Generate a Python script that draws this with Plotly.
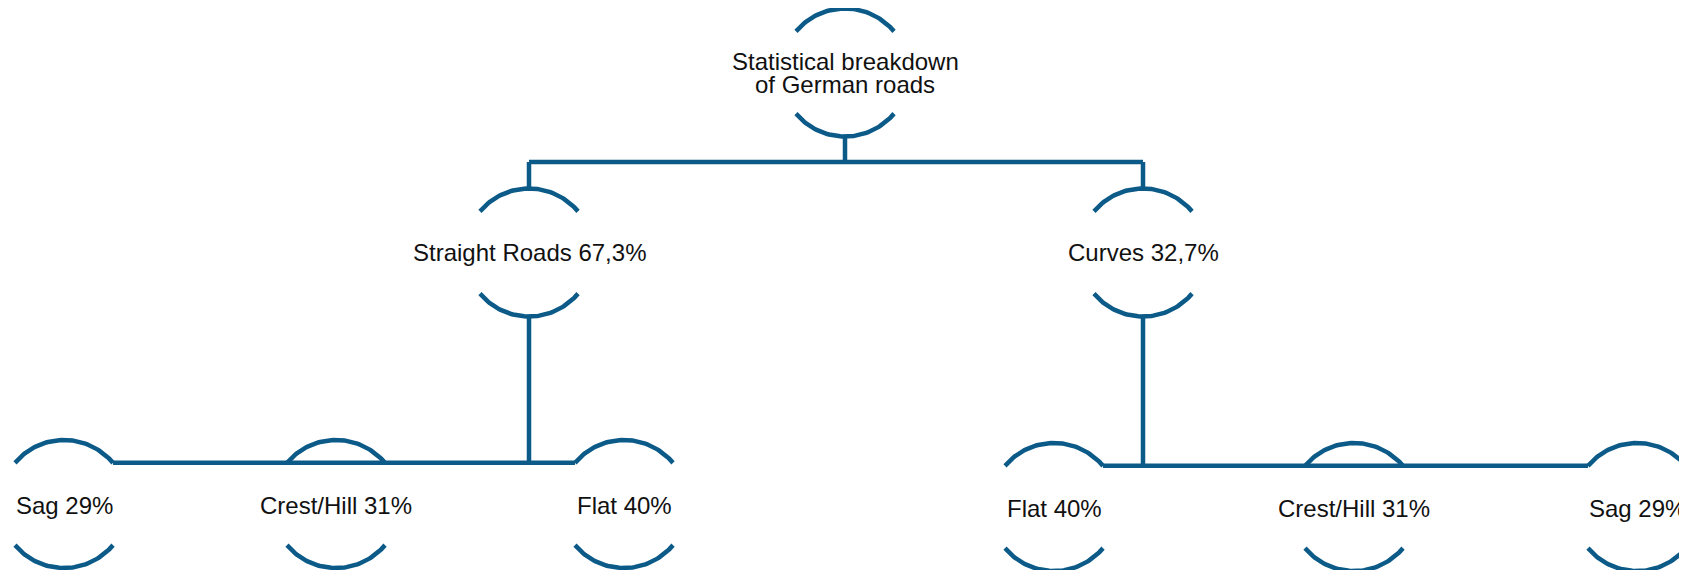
import numpy as np
import plotly.graph_objects as go

# ---------------- data ----------------
root_lines = ["Statistical breakdown", "of German roads"]
level1_names = ["Straight Roads", "Curves"]
level1_shares = ["67,3%", "32,7%"]
straight_names = ["Sag", "Crest/Hill", "Flat"]
straight_shares = [29, 31, 40]
curve_names = ["Flat", "Crest/Hill", "Sag"]
curve_shares = [40, 31, 29]

# ---------------- layout (page pixel space) ----------------
W, H = 1687, 570
OFF = 8  # default body margin of the page
root_pos = (845, 72.5)
level1_x = [529, 1143]
level1_y = 252.5
straight_x = [64, 336, 624]
straight_y = 504
curve_x = [1054, 1354, 1637]
curve_y = 507
bus_y_top = 162
R = 64
half_angle = np.deg2rad(50)

COLOR = "#0b5a88"
LW = 4.5
FONT = dict(family="Liberation Sans, Arial, sans-serif", size=24, color="#111111")

fig = go.Figure()


def add_line(xs, ys):
    fig.add_trace(go.Scatter(x=xs, y=ys, mode="lines",
                             line=dict(color=COLOR, width=LW),
                             hoverinfo="skip", showlegend=False))


def add_node(cx, cy):
    t = np.linspace(-half_angle, half_angle, 60)
    add_line(cx + R * np.sin(t), cy - R * np.cos(t))  # top arc
    add_line(cx + R * np.sin(t), cy + R * np.cos(t))  # bottom arc


arc_end_dx = R * np.sin(half_angle)
arc_end_dy = R * np.cos(half_angle)

# root
add_node(*root_pos)
add_line([root_pos[0], root_pos[0]], [root_pos[1] + R, bus_y_top])
add_line([level1_x[0], level1_x[1]], [bus_y_top, bus_y_top])

# level 1
for x in level1_x:
    add_node(x, level1_y)
    add_line([x, x], [bus_y_top, level1_y - R])

# straight children
sy_bus = straight_y - arc_end_dy
add_line([level1_x[0], level1_x[0]], [level1_y + R, sy_bus])
add_line([straight_x[0] + arc_end_dx, straight_x[-1] - arc_end_dx], [sy_bus, sy_bus])
for x in straight_x:
    add_node(x, straight_y)

# curve children
cy_bus = curve_y - arc_end_dy
add_line([level1_x[1], level1_x[1]], [level1_y + R, cy_bus])
add_line([curve_x[0] + arc_end_dx, curve_x[-1] - arc_end_dx], [cy_bus, cy_bus])
for x in curve_x:
    add_node(x, curve_y)

# ---------------- text ----------------
annotations = []
line_gap = 23
for i, txt in enumerate(root_lines):
    annotations.append(dict(x=root_pos[0], y=root_pos[1] - line_gap / 2 + i * line_gap,
                            text=txt, showarrow=False, font=FONT,
                            xanchor="center", yanchor="middle"))
for x, n, s in zip(level1_x, level1_names, level1_shares):
    annotations.append(dict(x=x, y=level1_y, text=f"{n} {s}", showarrow=False,
                            font=FONT, xanchor="center", yanchor="middle"))
for x, n, s in zip(straight_x, straight_names, straight_shares):
    annotations.append(dict(x=x, y=straight_y + 1, text=f"{n} {s}%", showarrow=False,
                            font=FONT, xanchor="center", yanchor="middle"))
for x, n, s in zip(curve_x, curve_names, curve_shares):
    annotations.append(dict(x=x, y=curve_y + 1, text=f"{n} {s}%", showarrow=False,
                            font=FONT, xanchor="center", yanchor="middle"))

fig.update_layout(
    width=W, height=H,
    margin=dict(l=0, r=0, t=0, b=0),
    paper_bgcolor="white", plot_bgcolor="white",
    xaxis=dict(range=[OFF, W + OFF], visible=False, fixedrange=True),
    yaxis=dict(range=[H + OFF, OFF], visible=False, fixedrange=True),
    annotations=annotations,
    showlegend=False,
)

fig.write_html("out.html")
